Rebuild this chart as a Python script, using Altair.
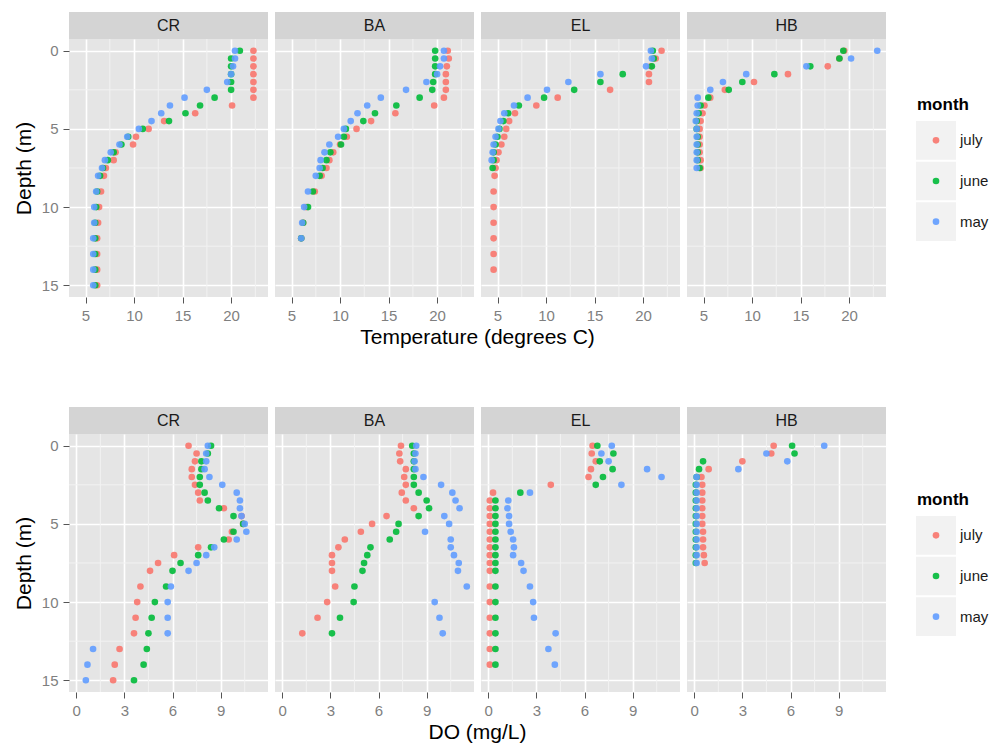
import altair as alt
import pandas as pd

FONT = "Liberation Sans"
SITES = ["CR", "BA", "EL", "HB"]
MONTHS = ["july", "june", "may"]
COLORS = ["#F8766D", "#00BA38", "#619CFF"]
DEPTHS = [0, 0.5, 1, 1.5, 2, 2.5, 3, 3.5, 4, 4.5, 5, 5.5, 6, 6.5, 7, 7.5, 8,
          9, 10, 11, 12, 13, 14, 15]

# ---- Temperature (degrees C) ----
TEMP_CR_JULY = [22.3, 22.3, 22.3, 22.3, 22.3, 22.3, 22.3, 20.1, 16.3, 13.1, 11.5, 10.2, 9.9, 8.1, 7.9, 7.1, 6.9,
                6.6, 6.4, 6.3, 6.2, 6.2, 6.2, 6.2]
TEMP_CR_JUNE = [20.9, 20.0, 20.0, 20.0, 20.0, 20.0, 18.3, 16.8, 15.3, 13.6, 10.9, 9.4, 8.7, 7.9, 7.3, 6.8, 6.5,
                6.2, 6.1, 6.0, 6.0, 6.0, 6.0, 6.0]
TEMP_CR_MAY = [20.4, 20.4, 20.2, 20.0, 19.6, 17.5, 15.2, 13.7, 12.8, 11.8, 10.5, 9.3, 8.5, 7.6, 7.0, 6.7, 6.3,
               6.1, 5.9, 5.9, 5.8, 5.8, 5.8, 5.8]
TEMP_BA_JULY = [21.1, 21.2, 21.0, 20.9, 20.9, 20.9, 20.7, 19.7, 15.7, 13.2, 11.7, 10.7, 10.0, 9.3, 8.9, 8.6, 8.1,
                7.4, 6.5, 6.2, 6.0]
TEMP_BA_JUNE = [19.8, 19.8, 19.8, 19.8, 19.6, 19.5, 18.2, 15.8, 13.6, 12.4, 10.6, 10.4, 10.1, 9.0, 8.6, 8.2, 7.9,
                7.2, 6.7, 6.2, 6.0]
TEMP_BA_MAY = [20.7, 20.7, 20.3, 20.0, 18.9, 16.8, 14.2, 12.8, 11.8, 11.1, 10.4, 9.8, 8.9, 8.4, 8.0, 7.9, 7.5,
               6.7, 6.3, 6.1, 6.0]
TEMP_EL_JULY = [21.9, 21.3, 20.8, 20.6, 20.6, 16.6, 11.2, 9.0, 6.8, 6.2, 5.9, 5.7, 5.4, 5.1, 4.9, 4.8, 4.7,
                4.6, 4.6, 4.6, 4.6, 4.6, 4.6]
TEMP_EL_JUNE = [21.0, 21.1, 20.9, 17.9, 15.6, 12.9, 9.8, 7.2, 6.1, 5.6, 5.2, 5.0, 4.8, 4.6, 4.6, 4.5]
TEMP_EL_MAY = [20.8, 20.9, 20.3, 15.6, 12.3, 10.1, 8.1, 6.7, 5.7, 5.3, 5.1, 4.8, 4.6, 4.5, 4.4]
TEMP_HB_JULY = [19.5, 19.0, 17.8, 13.7, 10.2, 7.2, 5.7, 5.1, 4.9, 4.7, 4.6, 4.6, 4.6, 4.6, 4.7, 4.7]
TEMP_HB_JUNE = [19.4, 19.0, 16.0, 12.3, 9.0, 7.6, 5.5, 4.7, 4.5, 4.3, 4.3, 4.4, 4.4, 4.4, 4.4, 4.6]
TEMP_HB_MAY = [22.9, 20.2, 15.6, 9.4, 7.0, 5.7, 4.4, 4.4, 4.3, 4.2, 4.3, 4.3, 4.3, 4.3, 4.3, 4.3]

# ---- Dissolved oxygen (mg/L) ----
DO_CR_JULY = [7.0, 7.5, 7.4, 7.2, 7.2, 7.4, 7.6, 7.7, 9.2, 10.3, 10.4, 9.7, 9.5, 7.6, 6.1, 5.1, 4.6,
              4.0, 3.8, 3.7, 3.6, 2.7, 2.4, 2.3]
DO_CR_JUNE = [8.4, 8.2, 7.8, 7.8, 7.7, 7.7, 8.0, 8.2, 8.9, 9.8, 10.4, 9.8, 9.2, 8.4, 7.6, 6.5, 6.0,
              5.6, 4.9, 4.7, 4.5, 4.4, 4.2, 3.6]
DO_CR_MAY = [8.2, 8.1, 8.1, 8.0, 8.3, 9.1, 10.0, 10.2, 10.2, 10.3, 10.5, 10.6, 10.0, 8.6, 8.1, 7.5, 7.0,
             5.9, 5.7, 5.7, 5.7, 1.05, 0.7, 0.6]
DO_BA_JULY = [7.4, 7.3, 7.35, 7.7, 7.6, 7.7, 7.45, 7.7, 8.2, 6.5, 5.6, 4.9, 3.9, 3.5, 3.1, 3.1, 3.1,
              3.3, 2.8, 2.2, 1.25]
DO_BA_JUNE = [8.1, 8.2, 8.2, 8.2, 8.2, 8.2, 8.5, 9.0, 9.15, 8.5, 7.25, 7.1, 6.7, 5.5, 5.3, 5.1, 5.0,
              4.5, 4.45, 3.6, 3.1]
DO_BA_MAY = [8.35, 8.3, 8.25, 8.3, 8.8, 9.9, 10.6, 10.8, 11.05, 10.1, 10.4, 8.9, 10.5, 10.5, 10.7, 11.0, 10.95,
             11.5, 9.5, 9.8, 10.0]
DO_EL_JULY = [6.5, 6.45, 6.7, 6.4, 6.25, 3.9, 0.3, 0.1, 0.1, 0.1, 0.1, 0.1, 0.1, 0.1, 0.1, 0.1, 0.1,
              0.1, 0.1, 0.1, 0.1, 0.1, 0.1]
DO_EL_JUNE = [6.8, 7.8, 6.95, 7.75, 7.15, 6.7, 2.0, 0.45, 0.45, 0.45, 0.45, 0.45, 0.45, 0.45, 0.45, 0.45, 0.45,
              0.45, 0.45, 0.45, 0.45, 0.45, 0.45]
DO_EL_MAY = [7.7, 7.05, 7.5, 9.9, 10.8, 8.3, 2.6, 1.25, 1.2, 1.3, 1.3, 1.4, 1.55, 1.6, 1.55, 2.05, 2.2,
             2.6, 2.8, 2.85, 4.2, 3.75, 4.15]
DO_HB_JULY = [4.95, 4.8, 3.0, 0.9, 0.45, 0.5, 0.5, 0.5, 0.5, 0.5, 0.5, 0.55, 0.55, 0.55, 0.6, 0.65]
DO_HB_JUNE = [6.1, 6.25, 0.55, 0.3, 0.15, 0.1, 0.1, 0.1, 0.1, 0.1, 0.1, 0.1, 0.1, 0.1, 0.1, 0.1]
DO_HB_MAY = [8.1, 4.5, 5.8, 2.75, 0.15, 0.15, 0.15, 0.15, 0.15, 0.15, 0.15, 0.15, 0.15, 0.15, 0.15, 0.15]

TEMP_TICKS = [5, 10, 15, 20]
TEMP_MINOR = [7.5, 12.5, 17.5, 22.5]
DO_TICKS = [0, 3, 6, 9]
DO_MINOR = [1.5, 4.5, 7.5, 10.5]
DEPTH_TICKS = [0, 5, 10, 15]
DEPTH_MINOR = [2.5, 7.5, 12.5]

TEMP_SERIES = {
    ("CR", "july"): TEMP_CR_JULY, ("CR", "june"): TEMP_CR_JUNE, ("CR", "may"): TEMP_CR_MAY,
    ("BA", "july"): TEMP_BA_JULY, ("BA", "june"): TEMP_BA_JUNE, ("BA", "may"): TEMP_BA_MAY,
    ("EL", "july"): TEMP_EL_JULY, ("EL", "june"): TEMP_EL_JUNE, ("EL", "may"): TEMP_EL_MAY,
    ("HB", "july"): TEMP_HB_JULY, ("HB", "june"): TEMP_HB_JUNE, ("HB", "may"): TEMP_HB_MAY,
}
DO_SERIES = {
    ("CR", "july"): DO_CR_JULY, ("CR", "june"): DO_CR_JUNE, ("CR", "may"): DO_CR_MAY,
    ("BA", "july"): DO_BA_JULY, ("BA", "june"): DO_BA_JUNE, ("BA", "may"): DO_BA_MAY,
    ("EL", "july"): DO_EL_JULY, ("EL", "june"): DO_EL_JUNE, ("EL", "may"): DO_EL_MAY,
    ("HB", "july"): DO_HB_JULY, ("HB", "june"): DO_HB_JUNE, ("HB", "may"): DO_HB_MAY,
}


def build(series):
    rows = []
    for site in SITES:
        for m in MONTHS:
            for d, v in zip(DEPTHS, series[(site, m)]):
                rows.append({"site": site, "month": m, "depth": d, "value": v})
    return pd.DataFrame(rows)


W, H, STRIP = 199, 258, 27
GAP = 7
LEG_OFF = 23
COLOR_SCALE = alt.Scale(domain=MONTHS, range=COLORS)
Y_SCALE = alt.Scale(domain=[-0.75, 15.75], reverse=True, nice=False, zero=False)


def panel(df, site, idx, xdomain, xticks, xminor, xtitle):
    d = df[df["site"] == site]
    xs = alt.Scale(domain=xdomain, nice=False, zero=False)
    xaxis = alt.Axis(values=xticks, title=None)
    if idx == 0:
        yaxis = alt.Axis(values=DEPTH_TICKS, title="Depth (m)", titlePadding=7)
    else:
        yaxis = alt.Axis(values=DEPTH_TICKS, title=None, labels=False, ticks=False)

    minor_x = alt.Chart(pd.DataFrame({"v": xminor})).mark_rule(color="#f2f2f2", strokeWidth=1).encode(
        x=alt.X("v:Q", scale=xs, axis=xaxis))
    minor_y = alt.Chart(pd.DataFrame({"v": DEPTH_MINOR})).mark_rule(color="#f2f2f2", strokeWidth=1).encode(
        y=alt.Y("v:Q", scale=Y_SCALE, axis=yaxis))
    pts = alt.Chart(d).mark_circle(size=44, opacity=0.9).encode(
        x=alt.X("value:Q", scale=xs, axis=xaxis),
        y=alt.Y("depth:Q", scale=Y_SCALE, axis=yaxis),
        color=alt.Color("month:N", scale=COLOR_SCALE, legend=None),
    )
    sdf = pd.DataFrame({"site": [site]})
    strip_rect = alt.Chart(sdf).mark_rect(color="#d4d4d4").encode(
        x=alt.value(0), x2=alt.value(W), y=alt.value(-STRIP), y2=alt.value(0))
    strip_text = alt.Chart(sdf).mark_text(fontSize=16, font=FONT, color="#1a1a1a", baseline="middle").encode(
        text="site:N", x=alt.value(W / 2), y=alt.value(-STRIP / 2))
    layers = [minor_x, minor_y, pts, strip_rect, strip_text]
    if idx == 1:
        ttl = alt.Chart(pd.DataFrame({"t": [xtitle]})).mark_text(
            fontSize=21, font=FONT, color="black", baseline="middle").encode(
            text="t:N", x=alt.value(W + GAP / 2), y=alt.value(H + 41))
        layers.append(ttl)
    return alt.layer(*layers).properties(
        width=W, height=H, view=alt.ViewBackground(fill="#e5e5e5", strokeWidth=0))


def legend_chart():
    ldf = pd.DataFrame({"month": MONTHS})
    ys = alt.Scale(domain=MONTHS, range=[82, 202], paddingInner=0.05, paddingOuter=0)
    y = alt.Y("month:N", scale=ys, axis=None)
    box = alt.Chart(ldf).mark_rect(color="#f2f2f2").encode(
        y=y, x=alt.value(LEG_OFF), x2=alt.value(LEG_OFF + 40))
    dot = alt.Chart(ldf).mark_circle(size=44, opacity=0.9).encode(
        y=y, x=alt.value(LEG_OFF + 20), color=alt.Color("month:N", scale=COLOR_SCALE, legend=None))
    lab = alt.Chart(ldf).mark_text(align="left", baseline="middle", fontSize=15, font=FONT,
                                   color="#1a1a1a").encode(y=y, x=alt.value(LEG_OFF + 44), text="month:N")
    ttl = alt.Chart(pd.DataFrame({"t": ["month"]})).mark_text(
        align="left", baseline="middle", fontSize=17, fontWeight="bold", font=FONT, color="black").encode(
        text="t:N", x=alt.value(LEG_OFF + 1), y=alt.value(66))
    return alt.layer(box, dot, lab, ttl).properties(
        width=LEG_OFF + 70, height=H, view=alt.ViewBackground(strokeWidth=0))


temp_df = build(TEMP_SERIES)
do_df = build(DO_SERIES)

top_panels = [panel(temp_df, s, i, [3.3, 23.8], TEMP_TICKS, TEMP_MINOR, "Temperature (degrees C)")
              for i, s in enumerate(SITES)]
bottom_panels = [panel(do_df, s, i, [-0.45, 11.95], DO_TICKS, DO_MINOR, "DO (mg/L)")
                 for i, s in enumerate(SITES)]

chart = alt.concat(
    *top_panels, legend_chart(), *bottom_panels, legend_chart(),
    columns=5, spacing={"row": 137, "column": GAP}, bounds="flush",
).resolve_scale(
    x="independent", y="independent"
).properties(
    padding={"left": 5, "top": 4, "right": 0, "bottom": 0}
).configure_view(strokeWidth=0).configure_axis(
    domain=False, grid=True, gridColor="white", gridWidth=1.6,
    tickColor="#555555", tickSize=6, tickWidth=1,
    labelColor="#7f7f7f", labelFontSize=15, labelFont=FONT, labelPadding=5,
    titleFont=FONT, titleFontSize=21, titleFontWeight="normal", titleColor="black",
)

chart.save("out.html", embed_options={"renderer": "svg", "actions": False})
